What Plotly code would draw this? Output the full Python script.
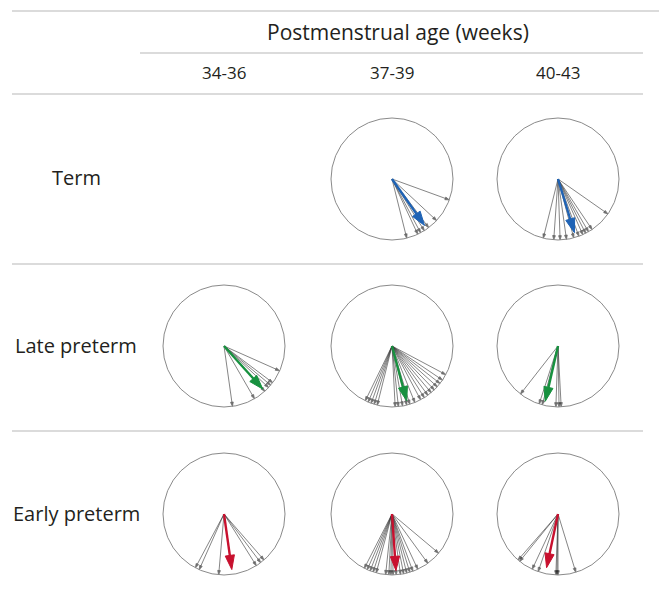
import math
import plotly.graph_objects as go

# ---------------- data ----------------
columns = ["34-36", "37-39", "40-43"]
rows = ["Term", "Late preterm", "Early preterm"]
title_text = "Postmenstrual age (weeks)"

# individual vector directions (degrees clockwise from straight up), unit length
term_34_36 = []
term_37_39 = [110, 133, 143, 148, 152, 155, 166]
term_40_43 = [125, 146, 150, 153, 156, 160, 165, 172, 178, 184, 194]
late_34_36 = [114, 127, 130, 133, 138, 150, 172]
late_37_39 = [118, 124, 128, 132, 136, 140, 144, 148, 152, 158, 163, 166,
              170, 174, 177, 194, 197, 200, 203, 206]
late_40_43 = [177, 179, 182, 195, 198, 218]
early_34_36 = [139, 143, 148, 185, 204, 208]
early_37_39 = [130, 144, 155, 160, 163, 166, 169, 172, 176, 179, 181, 183,
               186, 195, 198, 201, 204, 207]
early_40_43 = [163, 180, 181, 182, 199, 205, 219, 221]

# mean vectors per row (angle, length); None = no data
term_mean_angle = [None, 145, 163]
term_mean_length = [None, 0.93, 0.92]
late_mean_angle = [138, 165, 193]
late_mean_length = [0.95, 0.93, 0.93]
early_mean_angle = [172, 176, 192]
early_mean_length = [0.92, 0.93, 0.9]

row_colors = ["#1f63b5", "#17913f", "#c8102e"]

panel_angles = [
    [term_34_36, term_37_39, term_40_43],
    [late_34_36, late_37_39, late_40_43],
    [early_34_36, early_37_39, early_40_43],
]
mean_angles = [term_mean_angle, late_mean_angle, early_mean_angle]
mean_lengths = [term_mean_length, late_mean_length, early_mean_length]

# ---------------- layout constants ----------------
OFF = 8                     # page body margin
W, H = 667 - OFF, 592 - OFF
col_cx = [224, 392, 558]
row_cy = [179, 346, 514]
radius_px = 61
half_px = 70
R = half_px / radius_px
FONT = "Open Sans"
TXT = "#231f20"


def px(x):
    return (x - OFF) / W


def py(y):
    return 1 - (y - OFF) / H


fig = go.Figure()
layout = dict(
    width=W, height=H, margin=dict(l=0, r=0, t=0, b=0),
    paper_bgcolor="white", plot_bgcolor="white", showlegend=False,
)
shapes = []
annotations = []

k = 0
for ri in range(3):
    for ci in range(3):
        angles = panel_angles[ri][ci]
        if not angles:
            continue
        k += 1
        xa = "x" if k == 1 else f"x{k}"
        ya = "y" if k == 1 else f"y{k}"
        xkey = "xaxis" if k == 1 else f"xaxis{k}"
        ykey = "yaxis" if k == 1 else f"yaxis{k}"
        cx, cy = col_cx[ci], row_cy[ri]
        layout[xkey] = dict(domain=[px(cx - half_px), px(cx + half_px)],
                            range=[-R, R], visible=False, fixedrange=True)
        layout[ykey] = dict(domain=[py(cy + half_px), py(cy - half_px)],
                            range=[-R, R], visible=False, fixedrange=True)
        shapes.append(dict(type="circle", xref=xa, yref=ya, x0=-1, y0=-1, x1=1, y1=1,
                           line=dict(color="#8a8a8a", width=1)))
        # individual vectors
        xs, ys, sizes = [], [], []
        for a in angles:
            t = math.radians(a)
            xs += [0, math.sin(t), None]
            ys += [0, math.cos(t), None]
            sizes += [0, 4.5, 0]
        fig.add_trace(go.Scatter(
            x=xs, y=ys, xaxis=xa, yaxis=ya, mode="lines+markers",
            line=dict(color="rgba(50,50,50,0.75)", width=0.8),
            marker=dict(symbol="arrow", size=sizes, angleref="previous",
                        color="rgba(30,30,30,0.9)"),
            hoverinfo="skip"))
        # mean vector
        ma = mean_angles[ri][ci]
        ml = mean_lengths[ri][ci]
        if ma is not None:
            t = math.radians(ma)
            fig.add_trace(go.Scatter(
                x=[0, ml * math.sin(t)], y=[0, ml * math.cos(t)],
                xaxis=xa, yaxis=ya, mode="lines+markers",
                line=dict(color=row_colors[ri], width=2.4),
                marker=dict(symbol="arrow", size=[0, 15], angleref="previous",
                            color=row_colors[ri], opacity=1,
                            line=dict(color=row_colors[ri], width=1)),
                hoverinfo="skip"))

# table rules
rule_color = "#cfcfcf"
for (x0, x1, yy) in [(12, 662, 11), (140, 643, 53), (12, 643, 94),
                     (12, 643, 264), (12, 643, 431)]:
    shapes.append(dict(type="line", xref="paper", yref="paper",
                       x0=px(x0), x1=px(x1), y0=py(yy), y1=py(yy),
                       line=dict(color=rule_color, width=1.5)))

annotations.append(dict(text=title_text, xref="paper", yref="paper",
                        x=px(398), y=py(32), showarrow=False,
                        xanchor="center", yanchor="middle",
                        font=dict(family=FONT, size=21, color=TXT)))
for ci, c in enumerate(columns):
    annotations.append(dict(text=c, xref="paper", yref="paper",
                            x=px(col_cx[ci]), y=py(73), showarrow=False,
                            xanchor="center", yanchor="middle",
                            font=dict(family=FONT, size=17, color=TXT)))
for ri, r in enumerate(rows):
    annotations.append(dict(text=r, xref="paper", yref="paper",
                            x=px(76), y=py(row_cy[ri] - 1), showarrow=False,
                            xanchor="center", yanchor="middle",
                            font=dict(family=FONT, size=20, color=TXT)))

layout["shapes"] = shapes
layout["annotations"] = annotations
fig.update_layout(**layout)
fig.write_html("out.html")
